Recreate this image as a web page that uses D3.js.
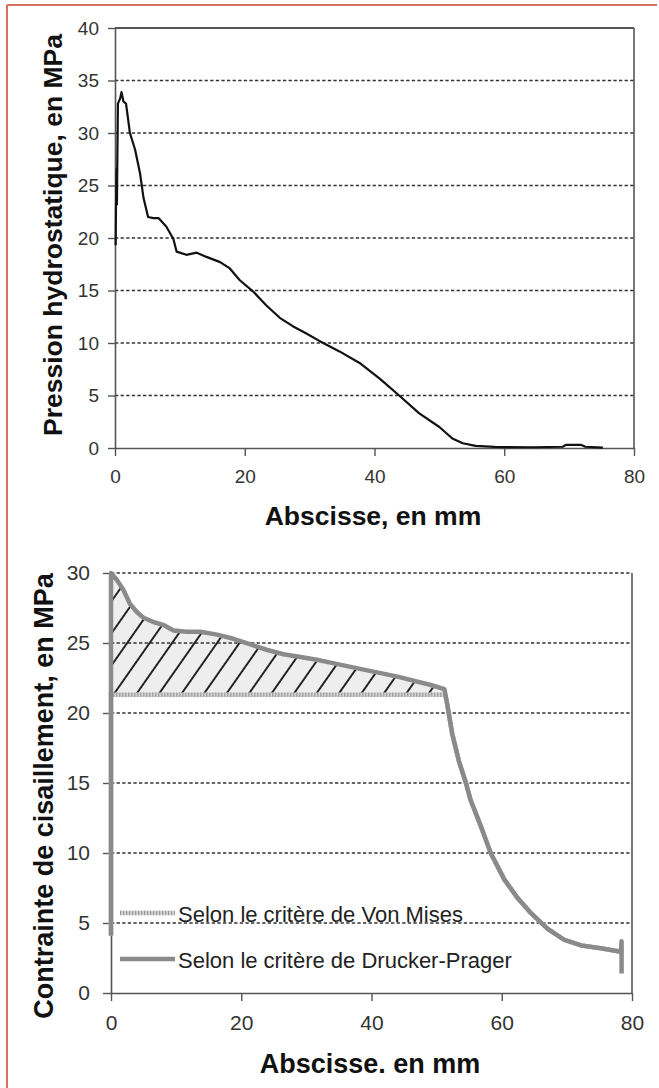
<!DOCTYPE html>
<html>
<head>
<meta charset="utf-8">
<script src="https://cdn.jsdelivr.net/npm/d3@7"></script>
<style>
  body { margin: 0; background: #fff; }
  text { font-family: Arial, "Liberation Sans", sans-serif; }
</style>
</head>
<body>
<div id="chart"></div>
<script>
// top chart: pression hydrostatique [abscisse mm, MPa]
const pression = [
  [0.1, 19.3], [0.15, 23.0], [0.25, 26.6], [0.3, 23.2], [0.35, 26.8], [0.45, 32.8],
  [0.8, 33.3], [1.0, 33.9], [1.3, 33.0], [1.7, 32.8], [2.3, 30.0], [3.1, 28.4],
  [3.85, 26.2], [4.4, 23.8], [5.1, 22.0], [5.9, 21.9], [6.7, 21.9], [7.9, 21.1],
  [9.0, 19.9], [9.5, 18.7], [11.0, 18.4], [12.6, 18.6], [14.1, 18.2], [16.2, 17.7],
  [17.7, 17.1], [19.2, 16.0], [21.3, 14.9], [23.3, 13.6], [25.4, 12.4], [27.4, 11.6],
  [29.5, 10.9], [31.5, 10.2], [34.6, 9.2], [37.7, 8.1], [40.8, 6.6], [43.8, 5.0],
  [46.9, 3.3], [50.0, 2.0], [52.0, 0.9], [53.6, 0.45], [55.6, 0.2], [58.5, 0.1],
  [64.4, 0.07], [69.0, 0.12], [69.5, 0.3], [71.8, 0.3], [72.5, 0.12], [75.2, 0.03]
];

// bottom chart: contrainte de cisaillement [abscisse mm, MPa]
const druckerPrager = [
  [0, 4.1], [0, 30.0], [0.9, 29.5], [1.9, 28.8], [2.9, 27.8], [4.0, 27.2], [5.0, 26.8],
  [6.5, 26.5], [8.0, 26.3], [9.6, 25.9], [11.6, 25.8], [13.7, 25.8], [16.3, 25.6],
  [18.8, 25.3], [21.4, 24.9], [24.0, 24.5], [26.5, 24.2], [29.1, 24.0], [31.6, 23.8],
  [33.7, 23.6], [38.8, 23.1], [44.0, 22.6], [49.1, 22.0], [51.2, 21.7], [51.6, 20.7],
  [52.4, 18.5], [53.4, 16.6], [54.5, 15.0], [55.2, 13.8], [56.8, 11.9], [58.3, 10.0],
  [60.4, 8.1], [62.4, 6.8], [64.5, 5.7], [67.0, 4.6], [69.6, 3.8], [72.2, 3.4],
  [75.2, 3.2], [78.3, 2.95], [78.4, 3.7], [78.4, 1.4]
];
const vonMises = [
  [0, 4.1], [0, 21.3], [51.3, 21.3], [51.6, 20.7], [52.4, 18.5], [53.4, 16.6],
  [54.5, 15.0], [55.2, 13.8], [56.8, 11.9], [58.3, 10.0], [60.4, 8.1], [62.4, 6.8],
  [64.5, 5.7], [67.0, 4.6], [69.6, 3.8], [72.2, 3.4], [75.2, 3.2], [78.3, 2.95]
];
// zone hachuree: entre Von Mises (bas) et Drucker-Prager (haut)
const zoneHachuree = [
  [0, 21.3, 30.0], [0.9, 21.3, 29.5], [1.9, 21.3, 28.8], [2.9, 21.3, 27.8], [4.0, 21.3, 27.2],
  [5.0, 21.3, 26.8], [6.5, 21.3, 26.5], [8.0, 21.3, 26.3], [9.6, 21.3, 25.9], [11.6, 21.3, 25.8],
  [13.7, 21.3, 25.8], [16.3, 21.3, 25.6], [18.8, 21.3, 25.3], [21.4, 21.3, 24.9], [24.0, 21.3, 24.5],
  [26.5, 21.3, 24.2], [29.1, 21.3, 24.0], [31.6, 21.3, 23.8], [33.7, 21.3, 23.6], [38.8, 21.3, 23.1],
  [44.0, 21.3, 22.6], [49.1, 21.3, 22.0], [51.2, 21.3, 21.7], [51.3, 21.3, 21.3]
];

const xTicks = [0, 20, 40, 60, 80];
const yTicksTop = [0, 5, 10, 15, 20, 25, 30, 35, 40];
const yTicksBottom = [0, 5, 10, 15, 20, 25, 30];
const legendLabels = ["Selon le critère de Von Mises", "Selon le critère de Drucker-Prager"];

const width = 659;
const height = 1088;

const svg = d3.select("#chart")
  .append("svg")
  .attr("width", width)
  .attr("height", height);

svg.append("rect").attr("width", width).attr("height", height).attr("fill", "#fff");

// red frame (top + left)
svg.append("line").attr("x1", 7).attr("x2", 657).attr("y1", 5).attr("y2", 5)
  .attr("stroke", "#d8705f").attr("stroke-width", 2);
svg.append("line").attr("x1", 7).attr("x2", 7).attr("y1", 5).attr("y2", height)
  .attr("stroke", "#d8705f").attr("stroke-width", 2);

const defs = svg.append("defs");
defs.append("pattern")
  .attr("id", "hatch")
  .attr("patternUnits", "userSpaceOnUse")
  .attr("width", 18.4)
  .attr("height", 18.4)
  .attr("patternTransform", "translate(112,695) rotate(35)")
  .append("line")
  .attr("x1", 1).attr("y1", 0).attr("x2", 1).attr("y2", 18.4)
  .attr("stroke", "#111").attr("stroke-width", 1.8);

function styleAxis(g, fontSize) {
  g.select(".domain").attr("stroke", "#555").attr("stroke-width", 1.6);
  g.selectAll(".tick line").attr("stroke", "#555").attr("stroke-width", 1.4);
  g.selectAll(".tick text")
    .attr("fill", "#333")
    .style("font-size", fontSize + "px")
    .style("font-family", "Arial, 'Liberation Sans', sans-serif");
}

function gridLines(g, x, y, ticks) {
  g.selectAll(".grid")
    .data(ticks)
    .enter()
    .append("line")
    .attr("class", "grid")
    .attr("x1", x.range()[0])
    .attr("x2", x.range()[1])
    .attr("y1", d => y(d))
    .attr("y2", d => y(d))
    .attr("stroke", "#333")
    .attr("stroke-width", 1.3)
    .attr("stroke-dasharray", "3.3,2.3");
}

// ---------- top chart ----------
const x1 = d3.scaleLinear().domain([0, 80]).range([115, 634]);
const y1 = d3.scaleLinear().domain([0, 40]).range([448, 28]);

const topChart = svg.append("g");

gridLines(topChart, x1, y1, yTicksTop.filter(d => d > 0 && d < 40));

// plot frame top + right
topChart.append("line").attr("x1", x1(0)).attr("x2", x1(80)).attr("y1", y1(40)).attr("y2", y1(40))
  .attr("stroke", "#555").attr("stroke-width", 2);
topChart.append("line").attr("x1", x1(80)).attr("x2", x1(80)).attr("y1", y1(40)).attr("y2", y1(0))
  .attr("stroke", "#555").attr("stroke-width", 1.6);

topChart.append("g")
  .attr("transform", "translate(0," + y1(0) + ")")
  .call(d3.axisBottom(x1).tickValues(xTicks).tickSize(8).tickSizeOuter(0).tickPadding(14))
  .call(g => styleAxis(g, 19));

topChart.append("g")
  .attr("transform", "translate(" + x1(0) + ",0)")
  .call(d3.axisLeft(y1).tickValues(yTicksTop).tickSize(7).tickSizeOuter(0).tickPadding(9))
  .call(g => styleAxis(g, 19));

const linePression = d3.line()
  .x(d => x1(d[0]))
  .y(d => y1(d[1]));

topChart.append("path")
  .datum(pression)
  .attr("d", linePression)
  .attr("fill", "none")
  .attr("stroke", "#111")
  .attr("stroke-width", 2.2)
  .attr("stroke-linejoin", "round");

topChart.append("text")
  .attr("x", 373).attr("y", 525)
  .attr("text-anchor", "middle")
  .style("font-size", "26.5px").style("font-weight", "bold")
  .attr("fill", "#111")
  .text("Abscisse, en mm");

topChart.append("text")
  .attr("transform", "translate(62,235) rotate(-90)")
  .attr("text-anchor", "middle")
  .style("font-size", "26.5px").style("font-weight", "bold")
  .attr("fill", "#111")
  .text("Pression hydrostatique, en MPa");

// ---------- bottom chart ----------
const x2 = d3.scaleLinear().domain([0, 80]).range([111, 632]);
const y2 = d3.scaleLinear().domain([0, 30]).range([993, 573]);

const botChart = svg.append("g");

const zone = d3.area()
  .x(d => x2(d[0]))
  .y0(d => y2(d[1]))
  .y1(d => y2(d[2]));

botChart.append("path")
  .datum(zoneHachuree)
  .attr("d", zone)
  .attr("fill", "#eeeeee");

gridLines(botChart, x2, y2, yTicksBottom.filter(d => d > 0));

botChart.append("path")
  .datum(zoneHachuree)
  .attr("d", zone)
  .attr("fill", "url(#hatch)");

botChart.append("line").attr("x1", x2(80)).attr("x2", x2(80)).attr("y1", y2(30)).attr("y2", y2(0))
  .attr("stroke", "#555").attr("stroke-width", 1.6);

botChart.append("g")
  .attr("transform", "translate(0," + y2(0) + ")")
  .call(d3.axisBottom(x2).tickValues(xTicks).tickSize(8).tickSizeOuter(0).tickPadding(14))
  .call(g => styleAxis(g, 21));

botChart.append("g")
  .attr("transform", "translate(" + x2(0) + ",0)")
  .call(d3.axisLeft(y2).tickValues(yTicksBottom).tickSize(8).tickSizeOuter(0).tickPadding(13))
  .call(g => styleAxis(g, 21));

const lineCis = d3.line()
  .x(d => x2(d[0]))
  .y(d => y2(d[1]));

// dotted light grey line (Von Mises)
function drawVonMises(sel) {
  sel.append("path")
    .attr("fill", "none").attr("stroke", "#d4d4d4").attr("stroke-width", 4.5);
  sel.append("path")
    .attr("fill", "none").attr("stroke", "#9a9a9a").attr("stroke-width", 4.5)
    .attr("stroke-dasharray", "1.2,1.8");
}
function drawDrucker(sel) {
  sel.append("path")
    .attr("fill", "none").attr("stroke", "#8a8a8a").attr("stroke-width", 4.5)
    .attr("stroke-linejoin", "round");
}

const vm = botChart.append("g").call(drawVonMises);
vm.selectAll("path").datum(vonMises).attr("d", lineCis);

const dp = botChart.append("g").call(drawDrucker);
dp.selectAll("path").datum(druckerPrager).attr("d", lineCis);

// legend
const legend = botChart.selectAll(".legend")
  .data(legendLabels)
  .enter()
  .append("g")
  .attr("class", "legend")
  .attr("transform", (d, i) => "translate(120," + (913 + i * 46) + ")");

legend.each(function(d, i) {
  const g = d3.select(this);
  const s = g.append("g").call(i === 0 ? drawVonMises : drawDrucker);
  s.selectAll("path").attr("d", "M0,0H55");
  g.append("text")
    .attr("x", 58).attr("y", 9)
    .style("font-size", "22px")
    .attr("fill", "#222")
    .text(d);
});

botChart.append("text")
  .attr("x", 370).attr("y", 1073)
  .attr("text-anchor", "middle")
  .style("font-size", "27px").style("font-weight", "bold")
  .attr("fill", "#111")
  .text("Abscisse. en mm");

botChart.append("text")
  .attr("transform", "translate(53,796) rotate(-90)")
  .attr("text-anchor", "middle")
  .style("font-size", "27px").style("font-weight", "bold")
  .attr("fill", "#111")
  .text("Contrainte de cisaillement, en MPa");
</script>
</body>
</html>
